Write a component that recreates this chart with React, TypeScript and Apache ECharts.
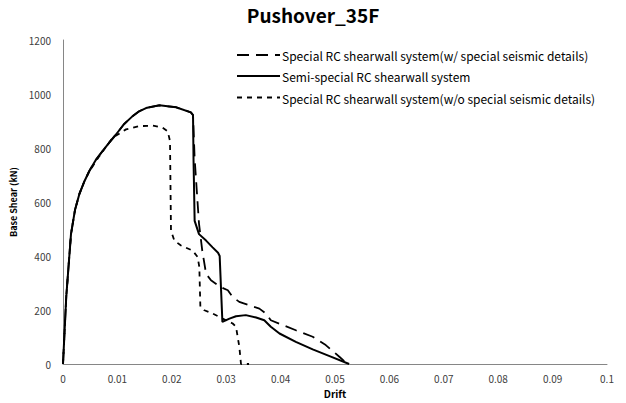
import React, { useEffect, useRef } from "react";
import * as echarts from "echarts";

const seriesNames = [
  "Special RC shearwall system(w/ special seismic details)",
  "Semi-special RC shearwall system",
  "Special RC shearwall system(w/o special seismic details)",
];

const specialWith: [number, number][] = [
  [0, 0], [0.0006, 250], [0.00147, 481], [0.0022, 570], [0.003, 629], [0.0039, 675],
  [0.00484, 715], [0.006, 755], [0.00729, 789], [0.0085, 820], [0.00974, 850],
  [0.0112, 888], [0.0128, 918], [0.014, 936], [0.01526, 948], [0.01771, 958],
  [0.02077, 951], [0.0235, 932], [0.0239, 922], [0.0242, 760], [0.0246, 640],
  [0.025, 520], [0.0256, 420], [0.0263, 334], [0.0272, 310], [0.029, 285],
  [0.0303, 273], [0.0312, 248], [0.0324, 230], [0.0361, 205], [0.0373, 187],
  [0.0382, 162], [0.0428, 125], [0.0459, 101], [0.0483, 70], [0.0508, 27], [0.0523, 0],
];

const semiSpecial: [number, number][] = [
  [0, 0], [0.0006, 250], [0.00147, 481], [0.0022, 570], [0.003, 629], [0.0039, 675],
  [0.00484, 715], [0.006, 755], [0.00729, 789], [0.0085, 820], [0.00974, 850],
  [0.0112, 888], [0.0128, 918], [0.014, 936], [0.01526, 948], [0.01771, 958],
  [0.02077, 951], [0.0235, 932], [0.0239, 922], [0.024, 750], [0.0242, 530],
  [0.025, 481], [0.0263, 457], [0.0275, 432], [0.0285, 412], [0.0288, 400],
  [0.0293, 156], [0.0306, 168], [0.0318, 177], [0.0336, 181], [0.0355, 172],
  [0.037, 162], [0.0382, 138], [0.0398, 113], [0.0428, 82], [0.0459, 54],
  [0.049, 29], [0.0526, 0],
];

const specialWithout: [number, number][] = [
  [0, 0], [0.0006, 250], [0.00147, 481], [0.0022, 570], [0.003, 629], [0.0039, 675],
  [0.0048, 712], [0.00668, 770], [0.00913, 838], [0.01158, 869], [0.01403, 881],
  [0.01648, 883], [0.01832, 875], [0.01924, 862], [0.01967, 826], [0.01985, 494],
  [0.02047, 457], [0.02169, 439], [0.02384, 420], [0.02475, 396], [0.02506, 359],
  [0.02525, 211], [0.02598, 199], [0.02751, 187], [0.02935, 168], [0.03119, 150],
  [0.0318, 138], [0.03241, 64], [0.03272, 0], [0.0342, 0],
];

const FONT = "'Noto Sans CJK KR', 'Noto Sans', sans-serif";

const dashes: (number[] | null)[] = [[12, 7], null, [5, 5]];
const lineWidths = [1.8, 2, 1.8];

export default function App() {
  const ref = useRef<HTMLDivElement>(null);
  useEffect(() => {
    if (!ref.current) return;
    const chart = echarts.init(ref.current, undefined, { renderer: "svg" });
    const rowY = [55, 76, 97.5];
    chart.setOption({
      animation: false,
      backgroundColor: "#ffffff",
      title: {
        text: "Pushover_35F",
        left: "center",
        top: 0,
        textStyle: { fontFamily: FONT, fontSize: 19, fontWeight: "bold", color: "#000" },
      },
      legend: {
        orient: "vertical",
        left: 232,
        top: 43,
        itemWidth: 40,
        itemHeight: 14,
        itemGap: 7.5,
        icon: "none",
        textStyle: { fontFamily: FONT, fontSize: 12, lineHeight: 14, color: "#000" },
        data: seriesNames,
      },
      graphic: rowY.map((y, i) => ({
        type: "line",
        shape: { x1: 237, y1: y, x2: 280, y2: y },
        style: {
          stroke: "#000",
          lineWidth: lineWidths[i],
          lineDash: dashes[i] || undefined,
        },
        silent: true,
      })),
      grid: { left: 63, right: 19, top: 40, bottom: 39, containLabel: false },
      xAxis: {
        type: "value",
        min: 0,
        max: 0.1,
        interval: 0.01,
        name: "Drift",
        nameLocation: "middle",
        nameGap: 24,
        nameTextStyle: { fontFamily: FONT, fontSize: 10, fontWeight: "bold", color: "#000" },
        axisLine: { show: true, lineStyle: { color: "#868686", width: 1 } },
        axisTick: { show: false },
        splitLine: { show: false },
        axisLabel: { fontFamily: FONT, fontSize: 10, color: "#404040", margin: 9 },
      },
      yAxis: {
        type: "value",
        min: 0,
        max: 1200,
        interval: 200,
        name: "Base Shear (kN)",
        nameLocation: "middle",
        nameGap: 36,
        nameRotate: 90,
        nameTextStyle: { fontFamily: FONT, fontSize: 9, fontWeight: "bold", color: "#000" },
        axisLine: { show: true, lineStyle: { color: "#868686", width: 1 } },
        axisTick: { show: false },
        splitLine: { show: false },
        axisLabel: {
          fontFamily: FONT,
          fontSize: 10,
          color: "#404040",
          margin: 12,
          formatter: (v: number) => String(v),
        },
      },
      series: [
        {
          name: seriesNames[0],
          type: "line",
          data: specialWith,
          symbol: "none",
          lineStyle: { color: "#000", width: lineWidths[0], type: dashes[0] },
          itemStyle: { color: "#000" },
          z: 2,
        },
        {
          name: seriesNames[1],
          type: "line",
          data: semiSpecial,
          symbol: "none",
          lineStyle: { color: "#000", width: lineWidths[1] },
          itemStyle: { color: "#000" },
          z: 3,
        },
        {
          name: seriesNames[2],
          type: "line",
          data: specialWithout,
          symbol: "none",
          lineStyle: { color: "#000", width: lineWidths[2], type: dashes[2] },
          itemStyle: { color: "#000" },
          z: 2,
        },
      ],
    });
    return () => chart.dispose();
  }, []);
  return (
    <div
      ref={ref}
      style={{ position: "fixed", left: 0, top: 0, width: 626, height: 403 }}
    />
  );
}
